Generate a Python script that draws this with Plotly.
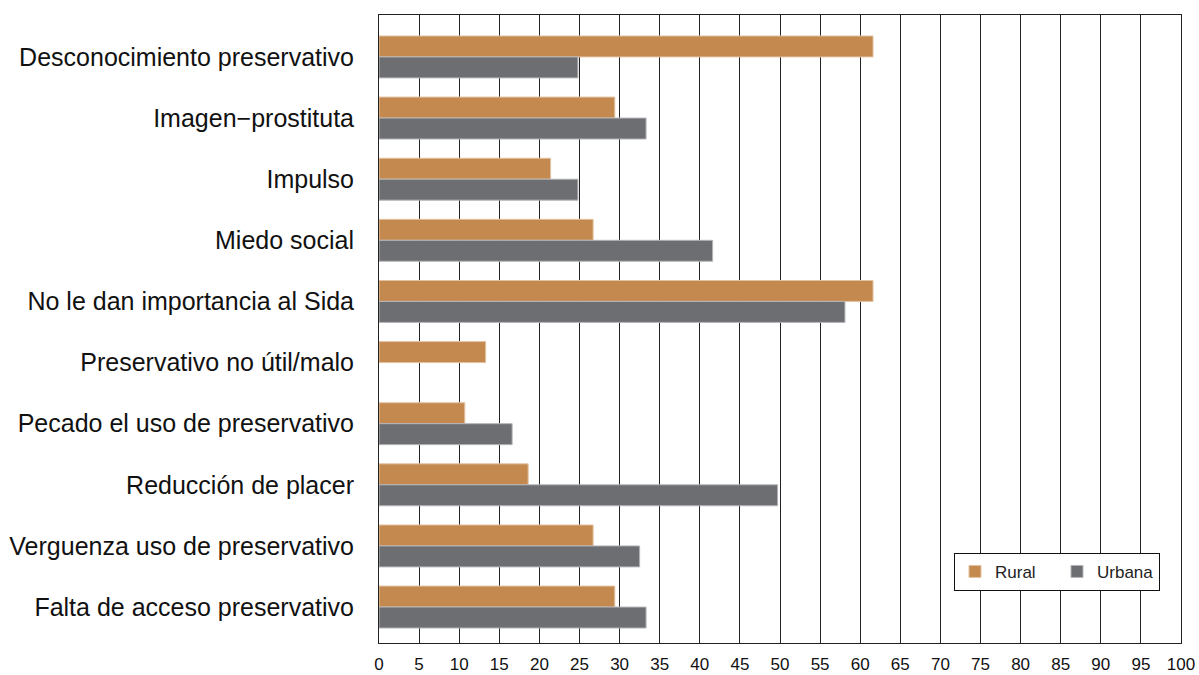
import plotly.graph_objects as go

# Motivos de no uso del preservativo, por área (%)
categorias = [
    "Desconocimiento preservativo",
    "Imagen\u2212prostituta",
    "Impulso",
    "Miedo social",
    "No le dan importancia al Sida",
    "Preservativo no útil/malo",
    "Pecado el uso de preservativo",
    "Reducción de placer",
    "Verguenza uso de preservativo",
    "Falta de acceso preservativo",
]
rural = [61.6, 29.4, 21.4, 26.7, 61.6, 13.3, 10.7, 18.6, 26.7, 29.4]
urbana = [24.8, 33.3, 24.8, 41.6, 58.1, None, 16.6, 49.7, 32.5, 33.3]
ticks_x = list(range(0, 101, 5))

FONT = "Liberation Sans, Arial, Helvetica, sans-serif"

fig = go.Figure()
fig.add_trace(go.Bar(
    y=categorias, x=rural, name="Rural", orientation="h",
    marker=dict(color="#C4894F", line=dict(color="#E3C3A3", width=1)),
))
fig.add_trace(go.Bar(
    y=categorias, x=urbana, name="Urbana", orientation="h",
    marker=dict(color="#6D6E72", line=dict(color="#B4B5B8", width=1)),
))

fig.update_layout(
    width=1199, height=675,
    margin=dict(l=379, r=18, t=15, b=32),
    paper_bgcolor="white", plot_bgcolor="white",
    barmode="group", bargap=0.314, bargroupgap=0,
    font=dict(family=FONT, color="#111"),
    showlegend=True,
    legend=dict(
        orientation="h", traceorder="normal",
        x=0.9738, xanchor="right", y=0.083, yanchor="bottom",
        bgcolor="white", bordercolor="#111", borderwidth=1,
        font=dict(size=17, family=FONT, color="#222"),
        entrywidth=57,
    ),
    xaxis=dict(
        range=[0, 100], tickvals=ticks_x, ticktext=[str(t) for t in ticks_x],
        showgrid=True, gridcolor="#222", gridwidth=1,
        showline=True, linecolor="#222", linewidth=1, mirror=True,
        zeroline=False, ticks="", tickfont=dict(size=17, family=FONT, color="#111"),
        ticklabelstandoff=6, automargin=False,
    ),
    yaxis=dict(
        categoryorder="array", categoryarray=categorias,
        range=[9.588, -0.686],
        showgrid=False, showline=True, linecolor="#222", linewidth=1, mirror=True,
        ticks="", tickfont=dict(size=25, family=FONT, color="#111"),
        ticklabelstandoff=19, automargin=False,
    ),
)

fig.add_annotation(
    text="Fuente: Elaboración propia.",
    xref="paper", yref="paper", x=-0.456, y=-0.0422,
    xanchor="left", yanchor="top", showarrow=False,
    font=dict(size=15, family=FONT, color="#999"),
)

fig.write_html("out.html")
